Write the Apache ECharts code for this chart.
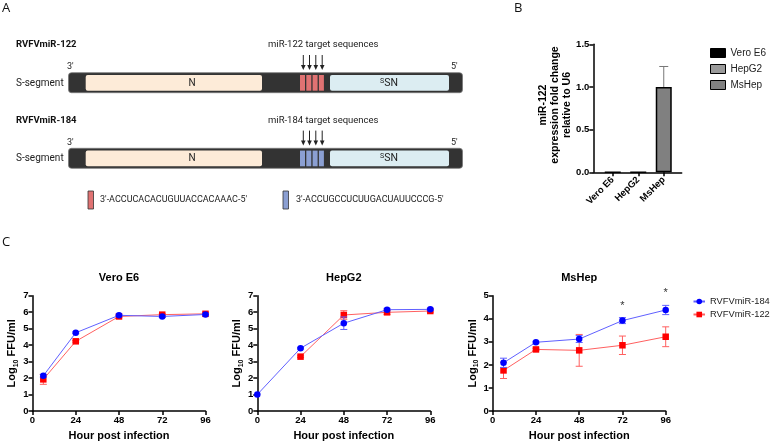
<!DOCTYPE html>
<html><head><meta charset="utf-8">
<script src="https://cdn.jsdelivr.net/npm/echarts@6/dist/echarts.min.js"></script>
<style>html,body{margin:0;padding:0;background:#fff}#c{width:771px;height:442px}</style>
</head><body><div id="c"></div>
<script>
// ---------- Panel B data ----------
const cellLines = ['Vero E6', 'HepG2', 'MsHep'];
const mir122Expr = [0, 0, 1.0];
const mir122Err = [0, 0, 0.24];
const barColors = ['#000000', '#9a9a9a', '#808080'];
const bYTitle = 'miR-122\nexpression fold change\nrelative to U6';

// ---------- Panel C data ----------
const veroHours = [6, 24, 48, 72, 96];
const veroMiR184 = [2.14, 4.75, 5.81, 5.74, 5.86];
const veroMiR184Sd = [0.08, 0.05, 0.06, 0.06, 0.05];
const veroMiR122 = [1.92, 4.23, 5.74, 5.85, 5.90];
const veroMiR122Sd = [0.30, 0.05, 0.05, 0.05, 0.05];

const hepHours184 = [0, 24, 48, 72, 96];
const hepMiR184 = [1.00, 3.81, 5.33, 6.15, 6.17];
const hepMiR184Sd = [0, 0.05, 0.38, 0.08, 0.06];
const hepHours122 = [24, 48, 72, 96];
const hepMiR122 = [3.30, 5.83, 5.99, 6.07];
const hepMiR122Sd = [0.05, 0.26, 0.12, 0.06];

const msHours = [6, 24, 48, 72, 96];
const msMiR184 = [2.09, 2.98, 3.12, 3.92, 4.38];
const msMiR184Sd = [0.20, 0.04, 0.15, 0.13, 0.20];
const msMiR122 = [1.76, 2.67, 2.63, 2.85, 3.22];
const msMiR122Sd = [0.35, 0.05, 0.69, 0.40, 0.43];
const msStarHours = [72, 96];

const hourTicks = [0, 24, 48, 72, 96];
const seriesNames = ['RVFVmiR-184', 'RVFVmiR-122'];
const chartTitles = ['Vero E6', 'HepG2', 'MsHep'];

const FONT = 'Liberation Sans, Arial, sans-serif';
const AFONT = 'Roboto, Liberation Sans, sans-serif';
const BLUE = '#0000ff', RED = '#ff0000';
const BLUE_L = '#6060ff', RED_L = '#ff6060';

function errItem(color, cap, upOnly) {
  return function (params, api) {
    const x = api.value(0), m = api.value(1), e = api.value(2);
    if (!e) return null;
    const t = api.coord([x, m + e]);
    const b = api.coord(upOnly ? [x, m] : [x, m - e]);
    const st = { stroke: color, lineWidth: 1 };
    const ch = [
      { type: 'line', shape: { x1: t[0], y1: t[1], x2: b[0], y2: b[1] }, style: st },
      { type: 'line', shape: { x1: t[0] - cap, y1: t[1], x2: t[0] + cap, y2: t[1] }, style: st }
    ];
    if (!upOnly) ch.push({ type: 'line', shape: { x1: b[0] - cap, y1: b[1], x2: b[0] + cap, y2: b[1] }, style: st });
    return { type: 'group', children: ch };
  };
}
const zip = (xs, ys) => xs.map((x, i) => [x, ys[i]]);
const zip3 = (xs, ys, es) => xs.map((x, i) => [x, ys[i], es[i]]);

const axisLineStyle = { show: true, lineStyle: { color: '#000', width: 1.5 } };
const axisTickStyle = { show: true, length: 4, lineStyle: { color: '#000', width: 1.5 } };
const axisLabelStyle = { color: '#000', fontWeight: 'bold', fontSize: 9.5, fontFamily: FONT, margin: 4 };

// ---------- grids ----------
const grids = [
  { left: 593.3, top: 44.3, width: 88.4, height: 128 },
  { left: 600, top: 44.3, width: 76.5, height: 128 },
  { left: 32.5, top: 295.7, width: 173, height: 115.3 },
  { left: 257.3, top: 295.7, width: 173, height: 115.3 },
  { left: 492.7, top: 295.7, width: 173, height: 115.3 }
];

const xAxes = [
  { gridIndex: 0, type: 'value', min: 0, max: 1, axisLine: axisLineStyle, axisTick: { show: false }, axisLabel: { show: false }, splitLine: { show: false } },
  { gridIndex: 1, type: 'category', data: cellLines, axisLine: { show: false },
    axisTick: Object.assign({ alignWithLabel: true }, axisTickStyle),
    axisLabel: Object.assign({}, axisLabelStyle, { rotate: 45, margin: 6 }) }
];
const yAxes = [
  { gridIndex: 0, type: 'value', min: 0, max: 1.5, interval: 0.5, axisLine: axisLineStyle, axisTick: axisTickStyle,
    axisLabel: Object.assign({}, axisLabelStyle, { formatter: v => v.toFixed(1) }), splitLine: { show: false } },
  { gridIndex: 1, type: 'value', min: 0, max: 1.5, show: false }
];
const yMaxes = [7, 7, 5];
for (let k = 0; k < 3; k++) {
  xAxes.push({ gridIndex: k + 2, type: 'value', min: hourTicks[0], max: hourTicks[hourTicks.length - 1], interval: 24,
    axisLine: axisLineStyle, axisTick: axisTickStyle, axisLabel: axisLabelStyle, splitLine: { show: false },
    name: 'Hour post infection', nameLocation: 'middle', nameGap: 19,
    nameTextStyle: { fontSize: 11, fontWeight: 'bold', color: '#000', fontFamily: FONT } });
  yAxes.push({ gridIndex: k + 2, type: 'value', min: 0, max: yMaxes[k], interval: 1,
    axisLine: axisLineStyle, axisTick: axisTickStyle, axisLabel: axisLabelStyle, splitLine: { show: false },
    name: 'Log{sub|10} FFU/ml', nameLocation: 'middle', nameRotate: 90, nameGap: 12,
    nameTextStyle: { fontSize: 11, fontWeight: 'bold', color: '#000', fontFamily: FONT, lineHeight: 14,
      rich: { sub: { fontSize: 7, fontWeight: 'bold', fontFamily: FONT, color: '#000', lineHeight: 8, verticalAlign: 'bottom' } } } });
}

// ---------- series ----------
const series = [];
cellLines.forEach((c, i) => {
  series.push({ type: 'bar', name: c, xAxisIndex: 1, yAxisIndex: 1, barWidth: 16, barGap: '-100%',
    data: cellLines.map((_, j) => j === i ? mir122Expr[j] : '-'),
    itemStyle: { color: barColors[i], borderColor: '#000', borderWidth: 1.5 } });
});
series.push({ type: 'custom', xAxisIndex: 1, yAxisIndex: 1, silent: true, z: 1,
  renderItem: errItem('#777', 4.5, true),
  data: cellLines.map((_, j) => [j, mir122Expr[j], mir122Err[j]]), encode: { x: 0, y: 1 } });

const panels = [
  { h184: veroHours, v184: veroMiR184, s184: veroMiR184Sd, h122: veroHours, v122: veroMiR122, s122: veroMiR122Sd },
  { h184: hepHours184, v184: hepMiR184, s184: hepMiR184Sd, h122: hepHours122, v122: hepMiR122, s122: hepMiR122Sd },
  { h184: msHours, v184: msMiR184, s184: msMiR184Sd, h122: msHours, v122: msMiR122, s122: msMiR122Sd }
];
panels.forEach((p, k) => {
  const ax = k + 2;
  series.push({ type: 'custom', xAxisIndex: ax, yAxisIndex: ax, silent: true, z: 2,
    renderItem: errItem(RED_L, 3.5, false), data: zip3(p.h122, p.v122, p.s122), encode: { x: 0, y: 1 } });
  series.push({ type: 'line', name: seriesNames[1], xAxisIndex: ax, yAxisIndex: ax, data: zip(p.h122, p.v122),
    symbol: 'rect', symbolSize: 6.5, lineStyle: { color: RED_L, width: 1 }, itemStyle: { color: RED }, z: 3, animation: false });
  series.push({ type: 'custom', xAxisIndex: ax, yAxisIndex: ax, silent: true, z: 4,
    renderItem: errItem(BLUE_L, 3.5, false), data: zip3(p.h184, p.v184, p.s184), encode: { x: 0, y: 1 } });
  series.push({ type: 'line', name: seriesNames[0], xAxisIndex: ax, yAxisIndex: ax, data: zip(p.h184, p.v184),
    symbol: 'circle', symbolSize: 6.5, lineStyle: { color: BLUE_L, width: 1 }, itemStyle: { color: BLUE }, z: 5, animation: false });
});
// significance stars above MsHep miR-184 error bars
series.push({ type: 'custom', xAxisIndex: 4, yAxisIndex: 4, silent: true, z: 6, clip: false,
  data: msStarHours.map(h => { const i = msHours.indexOf(h); return [h, msMiR184[i] + msMiR184Sd[i]]; }),
  encode: { x: 0, y: 1 },
  renderItem: (params, api) => {
    const pt = api.coord([api.value(0), api.value(1)]);
    return { type: 'text', style: { text: '*', x: pt[0], y: pt[1] - 12, align: 'center', verticalAlign: 'middle',
      fontSize: 11, fontFamily: FONT, fill: '#333' } };
  } });

// ---------- schematic (panel A) and panel labels ----------
const graphic = [];
function txt(x, y, text, size, opts) {
  graphic.push({ type: 'text', x: x, y: y, silent: true,
    style: Object.assign({ text: text, fontSize: size, fontFamily: AFONT, fill: '#222', verticalAlign: 'middle', align: 'left' }, opts || {}) });
}
txt(2, 8, 'A', 13, { fontFamily: 'Open Sans, sans-serif', fill: '#111' });
txt(514, 8, 'B', 13, { fontFamily: 'Open Sans, sans-serif', fill: '#111' });
txt(2, 242, 'C', 13, { fontFamily: 'Open Sans, sans-serif', fill: '#111' });

function construct(dy, name, target, stripe) {
  txt(16, 45 + dy, name, 9.5, { fontWeight: 'bold', fill: '#111' });
  txt(268, 45 + dy, target, 9.5, {});
  [303.3, 309.5, 315.8, 322.2].forEach(x => {
    graphic.push({ type: 'line', silent: true, shape: { x1: x, y1: 55 + dy, x2: x, y2: 66 + dy }, style: { stroke: '#222', lineWidth: 1 } });
    graphic.push({ type: 'polygon', silent: true, shape: { points: [[x - 2.3, 65 + dy], [x + 2.3, 65 + dy], [x, 70 + dy]] }, style: { fill: '#222' } });
  });
  txt(67, 67 + dy, "3'", 9, {});
  txt(451, 67 + dy, "5'", 9, {});
  txt(16, 83 + dy, 'S-segment', 10, {});
  graphic.push({ type: 'rect', silent: true, shape: { x: 68.5, y: 72.7 + dy, width: 394, height: 20, r: 3 }, style: { fill: '#333', stroke: '#777', lineWidth: 0.8 } });
  graphic.push({ type: 'rect', silent: true, shape: { x: 85.7, y: 75 + dy, width: 176.3, height: 15.7, r: 2 }, style: { fill: '#fdebd8' } });
  [300, 306.3, 312.6, 318.9].forEach(x => {
    graphic.push({ type: 'rect', silent: true, shape: { x: x, y: 75 + dy, width: 5, height: 15.7 }, style: { fill: stripe } });
  });
  graphic.push({ type: 'rect', silent: true, shape: { x: 330, y: 75 + dy, width: 119, height: 15.7, r: 2 }, style: { fill: '#dcedf2' } });
  txt(192, 83 + dy, 'N', 10, { align: 'center' });
  graphic.push({ type: 'text', x: 389, y: 83 + dy, silent: true,
    style: { text: '{sup|S}SN', fontSize: 10.5, fontFamily: AFONT, fill: '#222', align: 'center', verticalAlign: 'middle',
      rich: { sup: { fontSize: 7, fontFamily: AFONT, fill: '#222', verticalAlign: 'top', lineHeight: 8 } } } });
}
const RED_STRIPE = '#e07272', BLUE_STRIPE = '#8b9fd2';
construct(0, 'RVFVmiR-122', 'miR-122 target sequences', RED_STRIPE);
construct(75.6, 'RVFVmiR-184', 'miR-184 target sequences', BLUE_STRIPE);
graphic.push({ type: 'rect', silent: true, shape: { x: 88, y: 191, width: 5.5, height: 18 }, style: { fill: RED_STRIPE, stroke: '#333', lineWidth: 0.8 } });
txt(100, 200, "3'-ACCUCACACUGUUACCACAAAC-5'", 9, {});
graphic.push({ type: 'rect', silent: true, shape: { x: 283, y: 191, width: 5.5, height: 18 }, style: { fill: BLUE_STRIPE, stroke: '#333', lineWidth: 0.8 } });
txt(296, 200, "3'-ACCUGCCUCUUGACUAUUCCCG-5'", 9, {});

// panel B y-axis title (three lines, rotated)
graphic.push({ type: 'text', x: 555, y: 105, rotation: Math.PI / 2, silent: true,
  style: { text: bYTitle, fontSize: 10.5, fontWeight: 'bold', fontFamily: FONT, fill: '#000', align: 'center', verticalAlign: 'middle', lineHeight: 11.7 } });

// chart titles in panel C
grids.slice(2).forEach((g, k) => {
  txt(g.left + g.width / 2, 278, chartTitles[k], 11, { align: 'center', fontWeight: 'bold', fontFamily: FONT, fill: '#000' });
});

const chart = echarts.init(document.getElementById('c'), null, { renderer: 'canvas' });
chart.setOption({
  backgroundColor: '#fff',
  animation: false,
  grid: grids,
  xAxis: xAxes,
  yAxis: yAxes,
  legend: [
    { data: cellLines, orient: 'vertical', left: 710, top: 48, padding: 0, icon: 'rect', itemWidth: 15, itemHeight: 9, itemGap: 6,
      itemTextGap: 7, itemStyle: { borderColor: '#000', borderWidth: 1 }, selectedMode: false,
      textStyle: { fontSize: 10, fontFamily: FONT, color: '#222' } },
    { data: seriesNames, orient: 'vertical', left: 692.5, top: 297, padding: 0, itemWidth: 11.5, itemHeight: 7, itemGap: 4,
      itemTextGap: 7, selectedMode: false,
      textStyle: { fontSize: 9.3, fontFamily: FONT, color: '#222' } }
  ],
  graphic: graphic,
  series: series
});
</script></body></html>
